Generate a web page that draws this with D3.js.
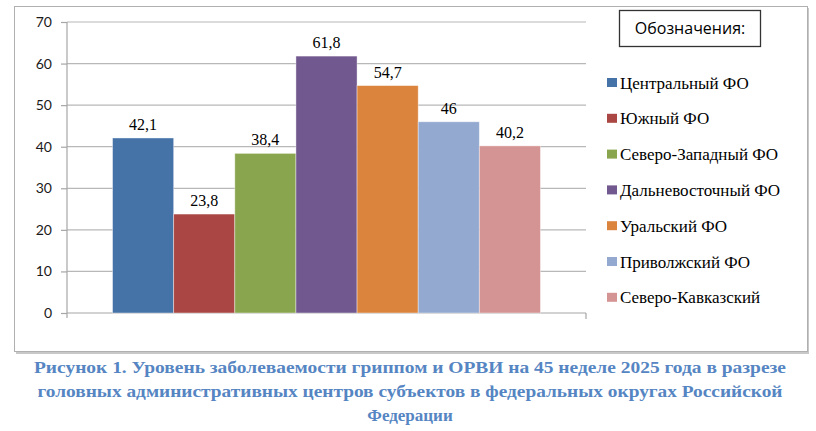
<!DOCTYPE html>
<html>
<head>
<meta charset="utf-8">
<script src="https://cdn.jsdelivr.net/npm/d3@7"></script>
</head>
<body style="margin:0">
<div id="chart-container"></div>
<script>
// Chart data.
const districts = ["Центральный ФО", "Южный ФО", "Северо-Западный ФО", "Дальневосточный ФО", "Уральский ФО", "Приволжский ФО", "Северо-Кавказский"];
const values = [42.1, 23.8, 38.4, 61.8, 54.7, 46, 40.2];
const colors = ["#4572a7", "#aa4643", "#89a54e", "#71588f", "#db843d", "#93a9cf", "#d49493"];
const yTicks = [0, 10, 20, 30, 40, 50, 60, 70];
const legendTitle = "Обозначения:";
const captionLines = [
  "Рисунок 1. Уровень заболеваемости гриппом и ОРВИ на 45 неделе 2025 года в разрезе",
  "головных административных центров субъектов в федеральных округах Российской",
  "Федерации"
];

const serifFont = "'Liberation Serif', serif";
const sansFont = "'Lato', 'Open Sans', sans-serif";

let fWidth = 816, fHeight = 431;
let plot = { left: 67, right: 586, top: 22, bottom: 313 };

let svg = d3.select("#chart-container").append("svg")
  .attr("width", fWidth)
  .attr("height", fHeight);

// Frame with a light shadow.
svg.append("rect")
  .attr("x", 16).attr("y", 8).attr("width", 793).attr("height", 346)
  .attr("fill", "#c8c8c8");
svg.append("rect")
  .attr("x", 14.5).attr("y", 6.5).attr("width", 793).attr("height", 345)
  .attr("fill", "#fff").attr("stroke", "#b0b0b0");

// Scales.
let yScale = d3.scaleLinear()
  .domain([0, 70])
  .range([plot.bottom, plot.top]);

let xScale = d3.scaleBand()
  .domain(districts)
  .range([plot.left, plot.right])
  .paddingInner(0)
  .paddingOuter(0.745);

// Gridlines.
svg.append("g")
  .selectAll("line")
  .data(yTicks.filter(d => d > 0))
  .enter()
  .append("line")
    .attr("x1", plot.left).attr("x2", plot.right)
    .attr("y1", d => yScale(d)).attr("y2", d => yScale(d))
    .attr("stroke", "#b8b8b8").attr("stroke-width", 1.2);

// Y axis.
let yAxis = svg.append("g")
  .attr("transform", `translate(${ plot.left } 0)`)
  .call(d3.axisLeft(yScale).tickValues(yTicks).tickSize(6).tickPadding(9).tickFormat(d3.format("d")));
yAxis.attr("font-family", sansFont).attr("font-size", 14);
yAxis.select(".domain").attr("stroke", "#a6a6a6").attr("stroke-width", 1.2).attr("d", `M0,${ plot.top }V${ plot.bottom + 5 }`);
yAxis.selectAll(".tick line").attr("stroke", "#a6a6a6").attr("stroke-width", 1.2);
yAxis.selectAll("text").attr("fill", "#1a1a1a");

// X axis line.
svg.append("line")
  .attr("x1", plot.left).attr("x2", plot.right)
  .attr("y1", plot.bottom).attr("y2", plot.bottom)
  .attr("stroke", "#a6a6a6").attr("stroke-width", 1.2);
svg.append("line")
  .attr("x1", plot.right).attr("x2", plot.right)
  .attr("y1", plot.bottom).attr("y2", plot.bottom + 6)
  .attr("stroke", "#a6a6a6").attr("stroke-width", 1.2);

// Bars.
svg.append("g")
  .selectAll("rect")
  .data(values)
  .enter()
  .append("rect")
    .attr("x", (d, i) => xScale(districts[i]))
    .attr("y", d => yScale(d))
    .attr("width", xScale.bandwidth())
    .attr("height", d => plot.bottom - yScale(d))
    .attr("fill", (d, i) => colors[i])
    .attr("stroke", "rgba(255,255,255,0.5)")
    .attr("stroke-width", 0.8);

// Value labels.
svg.append("g")
  .selectAll("text")
  .data(values)
  .enter()
  .append("text")
    .attr("x", (d, i) => xScale(districts[i]) + xScale.bandwidth() / 2)
    .attr("y", d => yScale(d) - 8)
    .attr("text-anchor", "middle")
    .style("font-family", serifFont)
    .style("font-size", "16px")
    .attr("fill", "#000")
    .text(d => String(d).replace(".", ","));

// Legend title box.
svg.append("rect")
  .attr("x", 619.5).attr("y", 10.5).attr("width", 141).attr("height", 36)
  .attr("fill", "#fff").attr("stroke", "#333").attr("stroke-width", 1.3);
svg.append("text")
  .attr("x", 690).attr("y", 34)
  .attr("text-anchor", "middle")
  .style("font-family", "'Open Sans', sans-serif")
  .style("font-size", "16px")
  .attr("fill", "#000")
  .text(legendTitle);

// Legend items.
let legend = svg.append("g")
  .selectAll("g")
  .data(districts)
  .enter()
  .append("g")
    .attr("transform", (d, i) => `translate(607 ${ 83 + i * 35.8 })`);
legend.append("rect")
  .attr("x", 0).attr("y", -5).attr("width", 10).attr("height", 9)
  .attr("fill", (d, i) => colors[i]);
legend.append("text")
  .attr("x", 13).attr("y", 5.5)
  .style("font-family", serifFont)
  .style("font-size", "17px")
  .attr("fill", "#000")
  .text(d => d);

// Caption.
let capWidths = [752, 745, null];
svg.append("g")
  .selectAll("text")
  .data(captionLines)
  .enter()
  .append("text")
    .attr("x", 410)
    .attr("y", (d, i) => 373 + i * 24)
    .attr("text-anchor", "middle")
    .style("font-family", serifFont)
    .style("font-size", "17px")
    .style("font-weight", "bold")
    .attr("fill", "#5585c2")
    .each(function(d, i) {
      if (capWidths[i]) {
        d3.select(this).attr("textLength", capWidths[i]).attr("lengthAdjust", "spacingAndGlyphs");
      }
    })
    .text(d => d);
</script>
</body>
</html>
